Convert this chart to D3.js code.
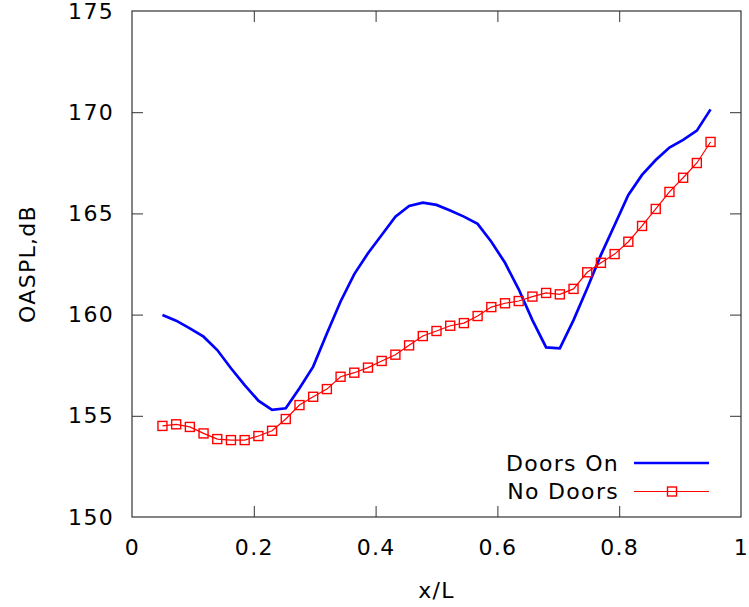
<!DOCTYPE html>
<html>
<head>
<meta charset="utf-8">
<script src="https://cdn.jsdelivr.net/npm/d3@7"></script>
<style>
  body { margin: 0; background: #fff; }
  text { font-family: "DejaVu Sans", sans-serif; fill: #000; letter-spacing: 1.3px; }
</style>
</head>
<body>
<div id="chart"></div>
<script>
// x/L stations
const xPos = [0.05, 0.0725, 0.095, 0.1175, 0.14, 0.1625, 0.185, 0.2075, 0.23, 0.2525,
  0.275, 0.2975, 0.32, 0.3425, 0.365, 0.3875, 0.41, 0.4325, 0.455, 0.4775,
  0.5, 0.5225, 0.545, 0.5675, 0.59, 0.6125, 0.635, 0.6575, 0.68, 0.7025,
  0.725, 0.7475, 0.77, 0.7925, 0.815, 0.8375, 0.86, 0.8825, 0.905, 0.9275, 0.95];

const doorsOn = [159.98, 159.7, 159.32, 158.91, 158.25, 157.35, 156.52, 155.75, 155.29, 155.37,
  156.36, 157.43, 159.07, 160.65, 162.0, 163.03, 163.93, 164.84, 165.37, 165.53,
  165.42, 165.14, 164.84, 164.48, 163.6, 162.56, 161.25, 159.73, 158.38, 158.33,
  159.73, 161.3, 162.95, 164.43, 165.91, 166.9, 167.64, 168.25, 168.63, 169.09, 170.14];

const noDoors = [154.5, 154.58, 154.45, 154.13, 153.85, 153.8, 153.8, 154.0, 154.26, 154.84,
  155.53, 155.94, 156.32, 156.93, 157.13, 157.38, 157.71, 158.02, 158.48, 158.94,
  159.19, 159.45, 159.58, 159.93, 160.37, 160.56, 160.67, 160.89, 161.07, 161.0,
  161.27, 162.09, 162.56, 162.99, 163.6, 164.38, 165.22, 166.06, 166.76, 167.49, 168.53];

const xTicks = [0, 0.2, 0.4, 0.6, 0.8, 1];
const yTicks = [150, 155, 160, 165, 170, 175];

const W = 749, H = 607;
const m = { left: 132, right: 741, top: 11, bottom: 517 };
const tickLen = 11;
const fs = 22;

const svg = d3.select("#chart").append("svg")
  .attr("width", W).attr("height", H);

const x = d3.scaleLinear().domain([0, 1]).range([m.left, m.right]);
const y = d3.scaleLinear().domain([150, 175]).range([m.bottom, m.top]);

const axisColor = "#333";

// axes with inward ticks, mirrored on top/right
svg.append("g")
  .attr("transform", `translate(0,${m.bottom})`)
  .call(d3.axisBottom(x).tickValues(xTicks).tickSizeInner(-tickLen).tickSizeOuter(0)
    .tickPadding(22).tickFormat(d3.format("")))
  .call(g => g.select(".domain").remove())
  .call(g => g.selectAll(".tick").filter(d => d === 0 || d === 1).select("line").remove())
  .call(g => g.selectAll("line").attr("stroke", axisColor))
  .call(g => g.selectAll("text").attr("font-size", fs).attr("fill", "#000"));

svg.append("g")
  .attr("transform", `translate(0,${m.top})`)
  .call(d3.axisTop(x).tickValues(xTicks.slice(1, -1)).tickSizeInner(-tickLen).tickSizeOuter(0)
    .tickFormat(""))
  .call(g => g.select(".domain").remove())
  .call(g => g.selectAll("line").attr("stroke", axisColor));

svg.append("g")
  .attr("transform", `translate(${m.left},0)`)
  .call(d3.axisLeft(y).tickValues(yTicks).tickSizeInner(-tickLen).tickSizeOuter(0)
    .tickPadding(18))
  .call(g => g.select(".domain").remove())
  .call(g => g.selectAll(".tick").filter(d => d === 150 || d === 175).select("line").remove())
  .call(g => g.selectAll("line").attr("stroke", axisColor))
  .call(g => g.selectAll("text").attr("font-size", fs).attr("fill", "#000"));

svg.append("g")
  .attr("transform", `translate(${m.right},0)`)
  .call(d3.axisRight(y).tickValues(yTicks.slice(1, -1)).tickSizeInner(-tickLen).tickSizeOuter(0)
    .tickFormat(""))
  .call(g => g.select(".domain").remove())
  .call(g => g.selectAll("line").attr("stroke", axisColor));

svg.append("rect")
  .attr("x", m.left).attr("y", m.top)
  .attr("width", m.right - m.left).attr("height", m.bottom - m.top)
  .attr("fill", "none").attr("stroke", axisColor).attr("stroke-width", 1.2);

// axis titles
svg.append("text")
  .attr("x", (m.left + m.right) / 2).attr("y", 590)
  .attr("text-anchor", "middle").attr("dominant-baseline", "central")
  .attr("font-size", fs).text("x/L");

svg.append("text")
  .attr("transform", `translate(27,${(m.top + m.bottom) / 2}) rotate(-90)`)
  .attr("text-anchor", "middle").attr("dominant-baseline", "central")
  .attr("font-size", fs).text("OASPL,dB");

const line = d3.line().x(d => x(d[0])).y(d => y(d[1]));

const blueData = xPos.map((v, i) => [v, doorsOn[i]]);
const redData = xPos.map((v, i) => [v, noDoors[i]]);

svg.append("path").datum(blueData)
  .attr("d", line).attr("fill", "none")
  .attr("stroke", "#0000ff").attr("stroke-width", 2.7).attr("stroke-linejoin", "miter");

svg.append("path").datum(redData)
  .attr("d", line).attr("fill", "none")
  .attr("stroke", "#ff0000").attr("stroke-width", 1.2);

const ms = 9;
svg.append("g").selectAll("rect")
  .data(redData).enter().append("rect")
  .attr("x", d => x(d[0]) - ms / 2).attr("y", d => y(d[1]) - ms / 2)
  .attr("width", ms).attr("height", ms)
  .attr("fill", "none").attr("stroke", "#ff0000").attr("stroke-width", 1.4);

// legend
const legend = svg.append("g");
const legendItems = [
  { name: "Doors On", color: "#0000ff", width: 2.7, marker: false, y: 463 },
  { name: "No Doors", color: "#ff0000", width: 1.2, marker: true, y: 491.5 }
];
legendItems.forEach(it => {
  legend.append("text")
    .attr("x", 619).attr("y", it.y)
    .attr("text-anchor", "end").attr("dominant-baseline", "central")
    .attr("font-size", fs).text(it.name);
  legend.append("line")
    .attr("x1", 634).attr("x2", 709).attr("y1", it.y).attr("y2", it.y)
    .attr("stroke", it.color).attr("stroke-width", it.width);
  if (it.marker) {
    legend.append("rect")
      .attr("x", 672 - ms / 2).attr("y", it.y - ms / 2)
      .attr("width", ms).attr("height", ms)
      .attr("fill", "none").attr("stroke", it.color).attr("stroke-width", 1.4);
  }
});
</script>
</body>
</html>
